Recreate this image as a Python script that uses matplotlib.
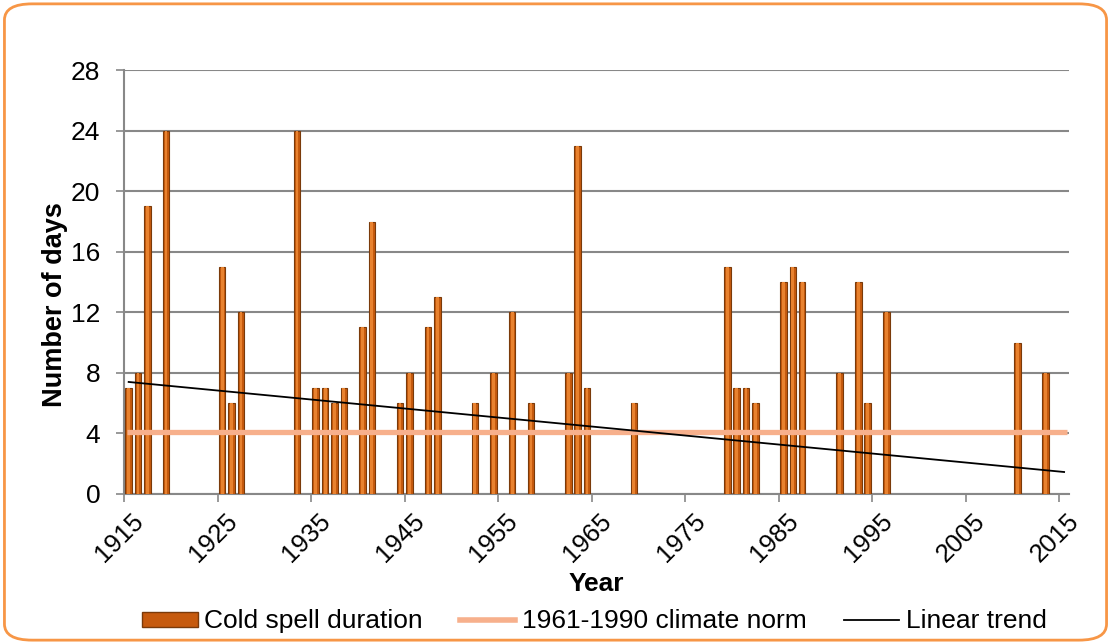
import matplotlib.pyplot as plt
from matplotlib.patches import FancyBboxPatch, Patch
from matplotlib.lines import Line2D

plt.rcParams['font.family'] = ['Liberation Sans', 'DejaVu Sans']

# Cold spell years and their duration (days)
years = [1915, 1916, 1917, 1919, 1925, 1926, 1927, 1933, 1935, 1936, 1937, 1938,
         1940, 1941, 1944, 1945, 1947, 1948, 1952, 1954, 1956, 1958, 1962, 1963,
         1964, 1969, 1979, 1980, 1981, 1982, 1985, 1986, 1987, 1991, 1993, 1994,
         1996, 2010, 2013]
days = [7, 8, 19, 24, 15, 6, 12, 24, 7, 7, 6, 7,
        11, 18, 6, 8, 11, 13, 6, 8, 12, 6, 8, 23,
        7, 6, 15, 7, 7, 6, 14, 15, 14, 8, 14, 6,
        12, 10, 8]

norm_value = 4.1          # 1961-1990 climate norm
trend_years = [1915.5, 2015.5]
trend_values = [7.4, 1.45]

tick_years = list(range(1915, 2016, 10))
y_ticks = list(range(0, 29, 4))

fig = plt.figure(figsize=(11.11, 6.44), dpi=100)
ax = fig.add_axes([0.1116, 0.233, 0.8504, 0.658])

# outer rounded orange frame
frame = FancyBboxPatch((0.004, 0.006), 0.992, 0.988, boxstyle='round,pad=0,rounding_size=0.025',
                       transform=fig.transFigure, facecolor='white', edgecolor='#F79646',
                       linewidth=2, zorder=-10)
fig.patches.append(frame)

x = [y + 0.5 for y in years]
ax.bar(x, days, width=0.7, color='#C65A0E', edgecolor='#7A3A0A', linewidth=0.8, zorder=3)
ax.bar(x, days, width=0.3, color='#E8822F', linewidth=0, zorder=4)

ax.plot([1915.3, 2015.8], [norm_value, norm_value], color='#F7B08C', lw=3.8, zorder=5,
        solid_capstyle='butt')
ax.plot(trend_years, trend_values, color='black', lw=1.3, zorder=6)

ax.set_xlim(1915, 2016)
ax.set_ylim(0, 28)
ax.set_yticks(y_ticks)
# tick marks on the decade, labels drawn a touch to the right (as in the original)
ax.set_xticks(tick_years)
ax.set_xticklabels([])
ax.set_xticks([t + 0.8 for t in tick_years], minor=True)
ax.set_xticklabels([str(t) for t in tick_years], minor=True, rotation=45, ha='right',
                   rotation_mode='anchor', fontsize=18.5)
ax.tick_params(axis='x', which='minor', length=0, pad=11)
ax.tick_params(axis='x', which='major', length=6, color='#888888', width=1.2)
ax.tick_params(axis='y', labelsize=19, length=6, pad=11, color='#888888', width=1.2)
ax.grid(axis='y', color='#888888', linewidth=1.5, zorder=0)
ax.set_axisbelow(True)
for s in ['top', 'right']:
    ax.spines[s].set_visible(False)
for s in ['left', 'bottom']:
    ax.spines[s].set_color('#888888')
    ax.spines[s].set_linewidth(1.5)

ax.set_ylabel('Number of days', fontsize=19.5, fontweight='bold')
ax.yaxis.set_label_coords(-0.059, 0.446)
ax.set_xlabel('Year', fontsize=19, fontweight='bold')
ax.xaxis.set_label_coords(0.5, -0.184)

handles = [Patch(facecolor='#C65A0E', edgecolor='#7A3A0A'),
           Line2D([], [], color='#F7B08C', lw=4),
           Line2D([], [], color='black', lw=1.3)]
labels = ['Cold spell duration', '1961-1990 climate norm', 'Linear trend']
fig.legend(handles, labels, loc='center', bbox_to_anchor=(0.535, 0.035), ncol=3,
           frameon=False, fontsize=19, handlelength=2.1, handleheight=0.5,
           handletextpad=0.25, columnspacing=1.4)

fig.savefig('out.png', dpi=100)
